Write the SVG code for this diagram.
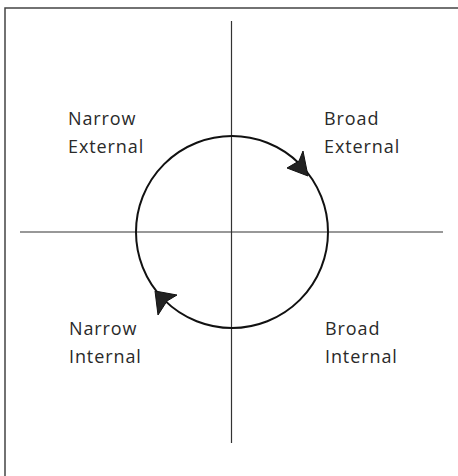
<svg xmlns="http://www.w3.org/2000/svg" width="458" height="476" viewBox="0 0 458 476">
<style>
.lbl{font-family:"Open Sans","Noto Sans",sans-serif;font-size:18px;letter-spacing:0.9px;fill:#2a2a2a}
.axis{stroke:#333;stroke-width:1.2;fill:none}
.frame{stroke:#444;stroke-width:1.5;fill:none}
.cyc{stroke:#111;stroke-width:2;fill:none}
.head{fill:#222;stroke:#111;stroke-width:1}
</style>
<rect width="458" height="476" fill="#fff"/>
<g id="frame">
<path class="frame" d="M5,476 V8 H458"/>
</g>
<g id="connectors">
<line class="axis" x1="231.5" y1="21" x2="231.5" y2="443"/>
<line class="axis" x1="20" y1="232" x2="443" y2="232"/>
<circle class="cyc" cx="232" cy="232" r="96"/>
<path class="head" d="M308,176 L303,151 L299,161 L287,168 Z"/>
<path class="head" d="M155,291 L177,295 L167,301 L158,315 Z"/>
</g>
<g id="narrow-external"><text class="lbl" x="68" y="125">Narrow</text><text class="lbl" x="68" y="153">External</text></g>
<g id="broad-external"><text class="lbl" x="324" y="125">Broad</text><text class="lbl" x="324" y="153">External</text></g>
<g id="narrow-internal"><text class="lbl" x="69" y="335">Narrow</text><text class="lbl" x="69" y="363">Internal</text></g>
<g id="broad-internal"><text class="lbl" x="325" y="335">Broad</text><text class="lbl" x="325" y="363">Internal</text></g>
</svg>
